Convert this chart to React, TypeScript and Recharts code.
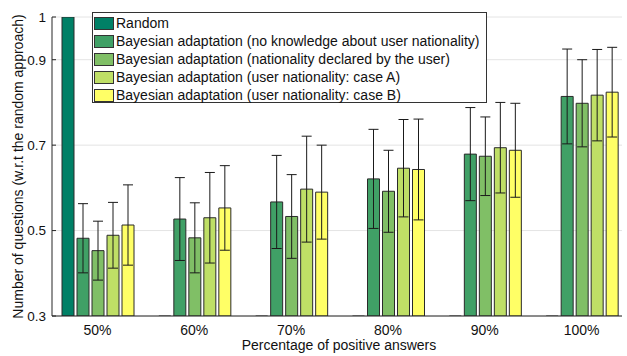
import { BarChart, Bar, XAxis, YAxis, CartesianGrid, ErrorBar, Legend, Label } from 'recharts';

const categories = ['50%', '60%', '70%', '80%', '90%', '100%'];

// mean number of questions, normalised by the random approach
const random = [1, 0, 0, 0, 0, 0];
const noKnowledge = [0.482, 0.527, 0.567, 0.621, 0.679, 0.814];
const declared = [0.453, 0.483, 0.533, 0.592, 0.674, 0.798];
const caseA = [0.489, 0.53, 0.597, 0.646, 0.694, 0.817];
const caseB = [0.513, 0.553, 0.59, 0.643, 0.688, 0.824];

// standard deviations (drawn as symmetric error bars)
const noKnowledgeErr = [0.081, 0.097, 0.109, 0.116, 0.109, 0.111];
const declaredErr = [0.069, 0.082, 0.098, 0.096, 0.092, 0.102];
const caseAErr = [0.077, 0.106, 0.124, 0.114, 0.106, 0.107];
const caseBErr = [0.094, 0.099, 0.11, 0.118, 0.11, 0.105];

const yTicks = [0.3, 0.5, 0.7, 0.9, 1];

const series = [
  { key: 'random', name: 'Random', color: '#008066', values: random, err: null },
  { key: 'noKnowledge', name: 'Bayesian adaptation (no knowledge about user nationality)', color: '#40A066', values: noKnowledge, err: noKnowledgeErr },
  { key: 'declared', name: 'Bayesian adaptation (nationality declared by the user)', color: '#80BF66', values: declared, err: declaredErr },
  { key: 'caseA', name: 'Bayesian adaptation (user nationality: case A)', color: '#BFDF66', values: caseA, err: caseAErr },
  { key: 'caseB', name: 'Bayesian adaptation (user nationality: case B)', color: '#FFFF66', values: caseB, err: caseBErr },
];

const data = categories.map((cat, i) => {
  const row: Record<string, any> = { cat };
  series.forEach((s) => {
    row[s.key] = s.values[i];
    if (s.err) row[`${s.key}Err`] = s.err[i];
  });
  return row;
});

const FONT = '"Liberation Sans", Arial, Helvetica, sans-serif';
const AXIS = '#262626';

const renderYTick = (props: any) => {
  const { x, y, payload } = props;
  return (
    <g>
      <line x1={x + 6} x2={x + 10} y1={y} y2={y} stroke={AXIS} strokeWidth={1} />
      <text x={x} y={y} dy="0.355em" textAnchor="end" fontSize={13.5} fontFamily={FONT} fill="#111">
        {payload.value}
      </text>
    </g>
  );
};

const renderLegend = () => (
  <div
    style={{
      boxSizing: 'border-box',
      width: 395,
      height: 91,
      border: '1px solid #333',
      background: '#fff',
      paddingTop: 1,
      fontFamily: FONT,
      fontSize: 14,
      color: '#111',
    }}
  >
    {series.map((s) => (
      <div key={s.key} style={{ display: 'flex', alignItems: 'center', height: 18, whiteSpace: 'nowrap' }}>
        <span
          style={{
            boxSizing: 'border-box',
            display: 'inline-block',
            flex: 'none',
            width: 20,
            height: 13,
            marginLeft: 1,
            marginRight: 2,
            background: s.color,
            border: '1px solid #333',
          }}
        />
        <span>{s.name}</span>
      </div>
    ))}
  </div>
);

export default function App() {
  return (
    <div style={{ width: 627, height: 356, background: '#fff' }}>
      <style>{'body { margin: 0; }'}</style>
      <BarChart
        width={627}
        height={356}
        data={data}
        margin={{ top: 17, right: 5, left: 0, bottom: 0 }}
        barCategoryGap={13}
        barGap={3}
      >
        <CartesianGrid vertical={false} stroke="#e4e4e4" strokeWidth={1} />
        <XAxis
          dataKey="cat"
          height={40}
          padding={{ left: -3, right: -8 }}
          axisLine={{ stroke: AXIS, strokeWidth: 1 }}
          tickLine={false}
          tickSize={0}
          tickMargin={9}
          tick={{ fontSize: 14, fontFamily: FONT, fill: '#111' }}
        >
          <Label
            content={(props: any) => {
              const vb = props.viewBox;
              return (
                <text
                  x={vb.x + vb.width / 2 + 2}
                  y={vb.y + 34}
                  textAnchor="middle"
                  fontSize={14}
                  fontFamily={FONT}
                  fill="#111"
                >
                  Percentage of positive answers
                </text>
              );
            }}
          />
        </XAxis>
        <YAxis
          width={52}
          domain={[0.3, 1]}
          ticks={yTicks}
          allowDataOverflow
          axisLine={{ stroke: AXIS, strokeWidth: 1 }}
          tickLine={false}
          tickSize={0}
          tickMargin={6}
          tick={renderYTick}
        >
          <Label
            content={(props: any) => {
              const vb = props.viewBox;
              return (
                <text
                  transform={`translate(${vb.x + 23},${vb.y + vb.height / 2}) rotate(-90)`}
                  textAnchor="middle"
                  fontSize={14}
                  fontFamily={FONT}
                  fill="#111"
                >
                  Number of questions (w.r.t the random approach)
                </text>
              );
            }}
          />
        </YAxis>
        <Legend
          content={renderLegend}
          layout="horizontal"
          verticalAlign="middle"
          align="center"
          wrapperStyle={{ left: 92, top: 12, width: 395, height: 91 }}
        />
        {series.map((s) => (
          <Bar
            key={s.key}
            dataKey={s.key}
            name={s.name}
            fill={s.color}
            stroke="#2a2a2a"
            strokeWidth={1}
            isAnimationActive={false}
          >
            {s.err && (
              <ErrorBar dataKey={`${s.key}Err`} width={5} stroke="#1a1a1a" strokeWidth={1} />
            )}
          </Bar>
        ))}
      </BarChart>
    </div>
  );
}
